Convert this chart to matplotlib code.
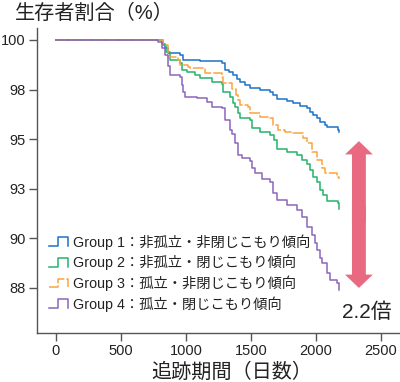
import matplotlib
matplotlib.use("Agg")
import matplotlib.pyplot as plt
import numpy as np
from matplotlib.lines import Line2D
from matplotlib.legend_handler import HandlerBase

plt.rcParams['font.family'] = ['Liberation Sans', 'Noto Sans CJK JP']

# データ (日数, 生存者割合 %)
g1_days = [0, 815, 838, 862, 954, 977, 1108, 1277, 1300, 1331, 1362, 1392, 1415, 1454, 1492, 1569,
           1646, 1669, 1700, 1777, 1823, 1877, 1931, 1954, 1977, 2008, 2031, 2069, 2085, 2169, 2177]
g1_surv = [100, 99.80, 99.60, 99.34, 99.24, 98.99, 98.94, 98.84, 98.49, 98.39, 98.24, 98.03, 97.88, 97.73,
           97.58, 97.48, 97.38, 97.23, 97.03, 96.93, 96.82, 96.67, 96.57, 96.37, 96.22, 96.07, 95.87,
           95.72, 95.61, 95.46, 95.36]

g2_days = [0, 823, 846, 877, 954, 969, 1008, 1069, 1108, 1200, 1277, 1285, 1338, 1362, 1377, 1400, 1415,
           1492, 1508, 1569, 1646, 1677, 1700, 1777, 1854, 1892, 1931, 1954, 1977, 2008, 2031, 2054,
           2085, 2169, 2177]
g2_surv = [100, 99.75, 99.40, 98.99, 98.84, 98.49, 98.39, 98.24, 98.08, 97.88, 97.78, 97.38, 97.13, 96.82,
           96.62, 96.32, 96.07, 95.97, 95.56, 95.36, 95.21, 94.96, 94.51, 94.35, 94.20, 93.95, 93.75,
           93.45, 93.09, 92.84, 92.44, 92.19, 91.88, 91.78, 91.48]

g3_days = [0, 823, 862, 938, 954, 1015, 1031, 1146, 1277, 1285, 1354, 1385, 1400, 1415, 1477, 1492, 1569,
           1646, 1669, 1708, 1762, 1823, 1900, 1931, 1969, 2008, 2046, 2069, 2162, 2177]
g3_surv = [100, 99.75, 99.14, 98.99, 98.74, 98.64, 98.59, 98.34, 98.14, 97.83, 97.53, 97.23, 96.98, 96.72,
           96.62, 96.32, 96.12, 96.07, 95.72, 95.46, 95.36, 95.31, 95.06, 94.81, 94.35, 93.95, 93.55,
           93.30, 93.09, 92.99]

g4_days = [0, 785, 815, 838, 862, 877, 954, 969, 977, 992, 1085, 1162, 1200, 1277, 1300, 1338, 1354, 1377,
           1400, 1431, 1492, 1508, 1531, 1585, 1646, 1669, 1700, 1777, 1854, 1892, 1931, 1969, 1992,
           2008, 2031, 2046, 2085, 2108, 2162, 2177]
g4_surv = [100, 99.90, 99.60, 99.24, 98.69, 98.24, 98.14, 97.73, 97.38, 97.13, 97.08, 96.87, 96.62, 96.57,
           95.97, 95.46, 95.26, 94.81, 94.20, 94.05, 93.90, 93.55, 93.30, 92.99, 92.84, 92.29, 91.94,
           91.68, 91.43, 91.08, 90.57, 90.17, 89.77, 89.42, 89.01, 88.76, 88.26, 87.90, 87.75, 87.40]

labels = ["Group 1：非孤立・非閉じこもり傾向",
          "Group 2：非孤立・閉じこもり傾向",
          "Group 3：孤立・非閉じこもり傾向",
          "Group 4：孤立・閉じこもり傾向"]

y_ticks = [87.5, 90, 92.5, 95, 97.5, 100]
y_ticklabels = ["88", "90", "93", "95", "98", "100"]
x_ticks = [0, 500, 1000, 1500, 2000, 2500]

ratio_text = "2.2倍"
ratio_top = 94.9
ratio_bottom = 87.5
ratio_x = 2330


class StepHandler(HandlerBase):
    # 凡例のアイコンを階段の形にする
    def create_artists(self, legend, orig_handle, xdescent, ydescent, width, height, fontsize, trans):
        xs = np.array([0.0, 0.45, 0.45, 1.0, 1.0]) * width - xdescent
        ys = np.array([0.0, 0.0, 1.0, 1.0, 0.0]) * height - ydescent
        line = Line2D(xs, ys)
        self.update_prop(line, orig_handle, legend)
        line.set_transform(trans)
        return [line]


fig = plt.figure(figsize=(4.0, 3.82), dpi=100)
ax = fig.add_axes([0.0925, 0.1283, 0.9075, 0.7984])

colors = ["#1b72c6", "#25b36c", "#f9a43f", "#8c66bb"]
styles = ["-", "-", (0, (7, 1.3)), "-"]
series = [(g1_days, g1_surv), (g2_days, g2_surv), (g3_days, g3_surv), (g4_days, g4_surv)]

handles = []
for (d, s), c, ls, lab in zip(series, colors, styles, labels):
    h, = ax.plot(d, s, drawstyle="steps-post", color=c, lw=1.1, ls=ls, label=lab)
    handles.append(h)

# 両矢印 (中央で少し重ねて継ぎ目を消す)
mid = (ratio_top + ratio_bottom) / 2
for end, start in ((ratio_top, mid - 0.4), (ratio_bottom, mid + 0.4)):
    ax.annotate("", xy=(ratio_x, end), xytext=(ratio_x, start),
                arrowprops=dict(arrowstyle="simple,head_length=0.48,head_width=1.0,tail_width=0.5",
                                mutation_scale=20, color="#e96a80", lw=0,
                                shrinkA=0, shrinkB=0))
ax.text(ratio_x + 60, 86.25, ratio_text, fontsize=15, ha="center", va="center", color="#222222")

ax.set_xlim(-146, 2646)
ax.set_ylim(85.23, 100.6)
ax.set_xticks(x_ticks)
ax.set_yticks(y_ticks)
ax.set_yticklabels(y_ticklabels)
ax.tick_params(direction="out", length=6, width=1.0, colors="#555555", labelcolor="#222222",
               labelsize=10.5, pad=2)
for sp in ["top", "right"]:
    ax.spines[sp].set_visible(False)
for sp in ["left", "bottom"]:
    ax.spines[sp].set_color("#555555")
    ax.spines[sp].set_linewidth(1.0)

leg = ax.legend(handles=handles, loc="lower left", bbox_to_anchor=(0.033, 0.07), frameon=False,
                fontsize=10.3, handler_map={Line2D: StepHandler()}, handlelength=1.33, handleheight=0.55,
                handletextpad=0.36, labelspacing=0.36, borderaxespad=0, borderpad=0)
for t in leg.get_texts():
    t.set_color("#222222")

fig.text(0.037, 0.965, "生存者割合（%）", fontsize=14.5, ha="left", va="center", color="#222222")
fig.text(0.58, 0.025, "追跡期間（日数）", fontsize=14.5, ha="center", va="center", color="#222222")

fig.savefig("out.png", dpi=100)
